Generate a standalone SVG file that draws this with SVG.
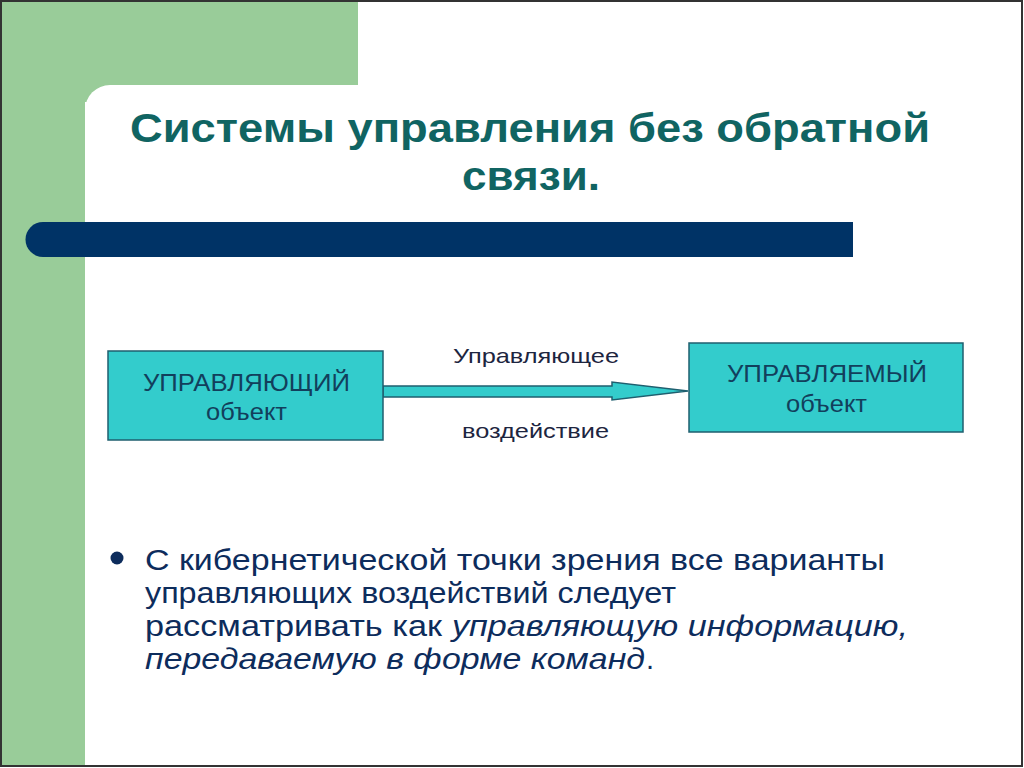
<svg xmlns="http://www.w3.org/2000/svg" width="1024" height="768" viewBox="0 0 1024 768">
<style>
.t{font-family:"Liberation Sans",Arial,sans-serif}
.title{font-size:40px;font-weight:bold;fill:#106462}
.box{fill:#33cccc;stroke:#1f5f6f;stroke-width:1.5}
.bl{font-size:23px;fill:#123f5c}
.al{font-size:21px;fill:#1d2540}
.body{font-size:29px;fill:#0d2c5c}
.it{font-style:italic}
</style>
<rect x="0" y="0" width="1024" height="768" fill="#ffffff"/>
<g id="background">
<rect x="2" y="2" width="356" height="100" fill="#99cc99"/>
<rect x="2" y="2" width="83" height="764" fill="#99cc99"/>
<path d="M85,110 A25,25 0 0 1 110,85 L358,85 L358,110 Z" fill="#ffffff"/>
<rect x="1" y="1" width="1021" height="765" fill="none" stroke="#333333" stroke-width="2"/>
<path d="M43,222 L853,222 L853,257 L43,257 A17.5,17.5 0 0 1 43,222 Z" fill="#003366"/>
</g>
<g id="title" class="t title" text-anchor="start">
<text x="130" y="142" textLength="800" lengthAdjust="spacingAndGlyphs">Системы управления без обратной</text>
<text x="462" y="190" textLength="138" lengthAdjust="spacingAndGlyphs">связи.</text>
</g>
<g id="connectors">
<polygon points="383,386 612,386 612,382 688,391 612,400 612,397 383,397" fill="#33cccc" stroke="#1f5f6f" stroke-width="1.5"/>
<text class="t al" x="453" y="363" textLength="166" lengthAdjust="spacingAndGlyphs">Управляющее</text>
<text class="t al" x="462" y="438" textLength="147" lengthAdjust="spacingAndGlyphs">воздействие</text>
</g>
<g id="node-controller">
<rect class="box" x="108" y="351" width="275" height="89"/>
<text class="t bl" x="143" y="391" textLength="207" lengthAdjust="spacingAndGlyphs">УПРАВЛЯЮЩИЙ</text>
<text class="t bl" x="206" y="420" textLength="81" lengthAdjust="spacingAndGlyphs">объект</text>
</g>
<g id="node-controlled">
<rect class="box" x="689" y="343" width="274" height="89"/>
<text class="t bl" x="727" y="382" textLength="200" lengthAdjust="spacingAndGlyphs">УПРАВЛЯЕМЫЙ</text>
<text class="t bl" x="786" y="412" textLength="81" lengthAdjust="spacingAndGlyphs">объект</text>
</g>
<g id="bullet" class="t body">
<circle cx="117" cy="558" r="6.5" fill="#0d2c5c"/>
<text x="145" y="570" textLength="740" lengthAdjust="spacingAndGlyphs">С кибернетической точки зрения все варианты</text>
<text x="145" y="603" textLength="531" lengthAdjust="spacingAndGlyphs">управляющих воздействий следует</text>
<text x="145" y="636" textLength="297" lengthAdjust="spacingAndGlyphs">рассматривать как</text>
<text class="it" x="452" y="636" textLength="456" lengthAdjust="spacingAndGlyphs">управляющую информацию,</text>
<text class="it" x="145" y="669" textLength="500" lengthAdjust="spacingAndGlyphs">передаваемую в форме команд</text>
<text x="646" y="669">.</text>
</g>
</svg>
